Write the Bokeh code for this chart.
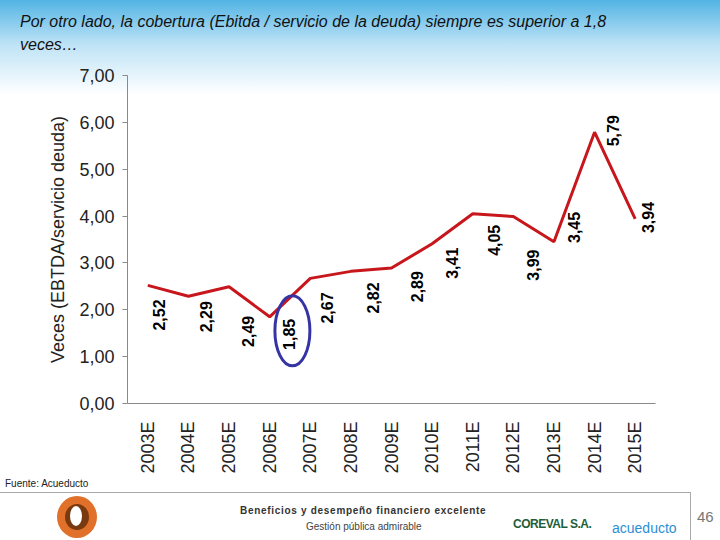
import math
from bokeh.plotting import figure
from bokeh.models import Range1d, FixedTicker, Div, ColumnDataSource
from bokeh.layouts import column
from bokeh.embed import file_html
from bokeh.resources import INLINE
from bokeh.core.properties import value

# ---- data ----
years = ["2003E", "2004E", "2005E", "2006E", "2007E", "2008E", "2009E",
         "2010E", "2011E", "2012E", "2013E", "2014E", "2015E"]
coverage = [2.52, 2.29, 2.49, 1.85, 2.67, 2.82, 2.89, 3.41, 4.05, 3.99, 3.45, 5.79, 3.94]
y_ticks = [0, 1, 2, 3, 4, 5, 6, 7]

# label placement styles (pixels, screen space)
label_dx = [11, 18, 19, 19, 17, 22, 25, 20, 21, 20, 20, 18, 13]
label_dy = [14, 5, 29, 2, 14, 11, 3, 4, 11, 33, -30, -17, -17]

FONT = "Liberation Sans"

xs = list(range(len(years)))
labels = [f"{v:.2f}".replace(".", ",") for v in coverage]
src = ColumnDataSource(dict(x=xs, y=coverage, lab=labels, dx=label_dx, dy=label_dy))

p = figure(width=720, height=410, output_backend="svg", toolbar_location=None,
           x_range=Range1d(-0.5, len(years) - 0.5), y_range=Range1d(0, 7),
           min_border_left=127, min_border_right=65, min_border_top=9, min_border_bottom=10,
           margin=0)
p.border_fill_color = None
p.background_fill_color = None
p.outline_line_color = None
p.grid.visible = False

p.line("x", "y", source=src, line_color="#c8161d", line_width=3)
p.text("x", "y", text="lab", source=src, x_offset="dx", y_offset="dy",
       angle=math.pi / 2, text_align="right", text_baseline="middle",
       text_font=value(FONT), text_font_size="16px", text_font_style="bold",
       text_color="#000000")

imin = coverage.index(min(coverage))
p.ellipse(x=[imin + 0.56], y=[coverage[imin] - 0.3], width=35, height=70,
          width_units="screen", height_units="screen",
          fill_color=None, line_color="#3434a4", line_width=3)

# y axis
ya = p.yaxis[0]
ya.ticker = FixedTicker(ticks=y_ticks)
ya.major_label_overrides = {t: f"{t},00" for t in y_ticks}
ya.minor_tick_line_color = None
ya.major_tick_in = 0
ya.major_tick_out = 5
ya.axis_line_color = "#8a8a8a"
ya.major_tick_line_color = "#8a8a8a"
ya.major_label_text_font = FONT
ya.major_label_text_font_size = "18px"
ya.major_label_text_color = "#222222"
ya.major_label_standoff = 8
ya.axis_label = "Veces (EBTDA/servicio deuda)"
ya.axis_label_text_font = FONT
ya.axis_label_text_font_size = "18px"
ya.axis_label_text_font_style = "normal"
ya.axis_label_text_color = "#222222"
ya.axis_label_standoff = 8

# x axis
xa = p.xaxis[0]
xa.ticker = FixedTicker(ticks=xs)
xa.major_label_overrides = {i: y for i, y in enumerate(years)}
xa.major_label_orientation = math.pi / 2
xa.minor_tick_line_color = None
xa.major_tick_line_color = None
xa.axis_line_color = "#8a8a8a"
xa.major_label_text_font = FONT
xa.major_label_text_font_size = "18px"
xa.major_label_text_color = "#222222"
xa.major_label_standoff = 12

title = Div(width=720, height=66, margin=0, text=(
    f'<div style="font-family:\'{FONT}\';font-style:italic;font-size:16px;'
    'line-height:23px;padding:10px 0 0 20px;color:#111;white-space:nowrap;">'
    'Por otro lado, la cobertura (Ebitda / servicio de la deuda) siempre es superior a 1,8'
    '<br>veces…</div>'))

footer = Div(width=720, height=64, margin=0, text=(
    f'<div style="position:relative;width:720px;height:64px;font-family:\'{FONT}\';">'
    '<div style="position:absolute;left:5px;top:1px;font-size:10px;color:#222;white-space:nowrap;">Fuente: Acueducto</div>'
    '<div style="position:absolute;left:0px;top:16px;width:690px;height:0;border-top:1px solid #aaa;"></div>'
    '<div style="position:absolute;left:690px;top:16px;width:0;height:48px;border-left:1px solid #aaa;"></div>'
    '<div style="position:absolute;box-sizing:border-box;left:57px;top:20px;width:40px;height:42px;border:8px solid #e0702a;border-radius:50%;background:#7a3a10;"></div>'
    '<div style="position:absolute;box-sizing:border-box;left:70px;top:30px;width:12px;height:20px;border-radius:50%;background:#fff;"></div>'
    '<div style="position:absolute;left:240px;top:28px;font-size:10px;font-weight:bold;letter-spacing:0.7px;color:#333;white-space:nowrap;">Beneficios y desempeño financiero excelente</div>'
    '<div style="position:absolute;left:306px;top:44px;font-size:10px;letter-spacing:0px;color:#444;white-space:nowrap;">Gestión pública admirable</div>'
    '<div style="position:absolute;left:513px;top:40px;font-size:12px;font-weight:bold;letter-spacing:-0.5px;color:#1d5e3b;white-space:nowrap;">COREVAL S.A.</div>'
    '<div style="position:absolute;left:612px;top:42px;font-size:14px;color:#2b8fd6;white-space:nowrap;">acueducto</div>'
    '<div style="position:absolute;left:697px;top:30px;font-size:15px;color:#777;white-space:nowrap;">46</div>'
    '</div>'))

layout = column(title, p, footer, spacing=0, margin=0)

html = file_html(layout, INLINE)
style = ('<style>html, body { background: linear-gradient(to bottom, #52b4e4 0px, '
         '#bfe3f6 45px, #ffffff 95px) no-repeat, #ffffff !important; }</style>')
html = html.replace("</head>", style + "</head>", 1)
open("out.html", "w").write(html)
